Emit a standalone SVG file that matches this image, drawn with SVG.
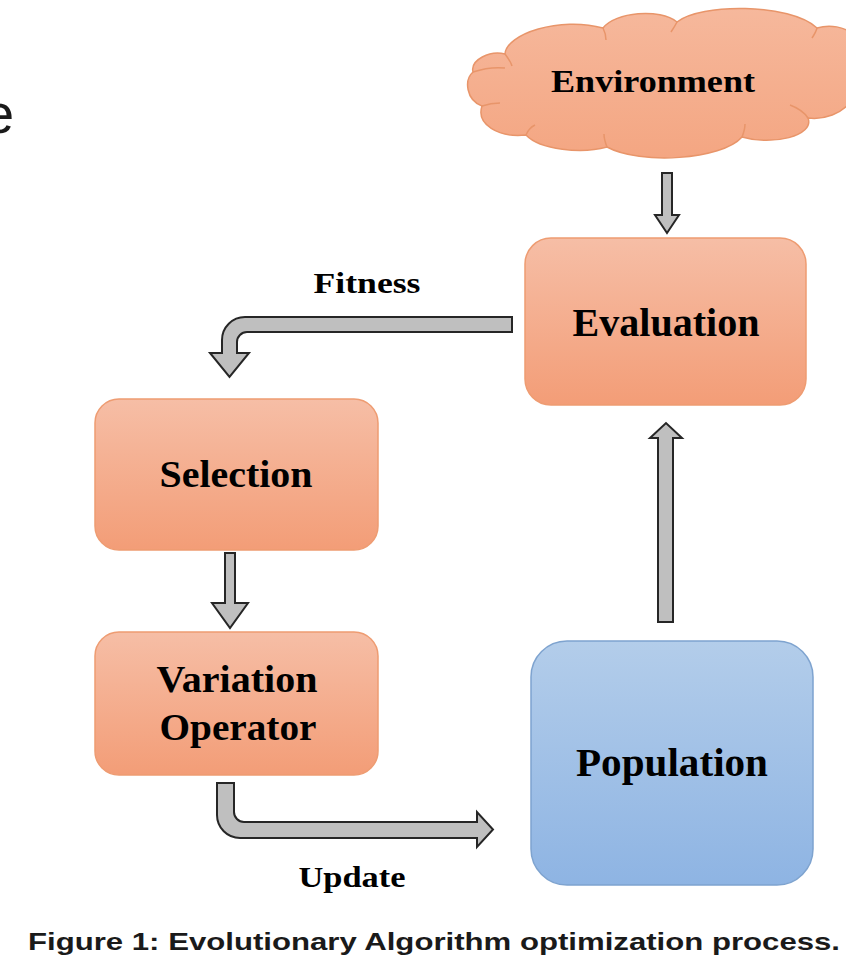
<svg xmlns="http://www.w3.org/2000/svg" width="846" height="967" viewBox="0 0 846 967">
<defs>
<linearGradient id="og" x1="0" y1="0" x2="0" y2="1">
<stop offset="0" stop-color="#f6bea6"/>
<stop offset="1" stop-color="#f39d77"/>
</linearGradient>
<linearGradient id="bg" x1="0" y1="0" x2="0" y2="1">
<stop offset="0" stop-color="#b3cdea"/>
<stop offset="1" stop-color="#8eb4e3"/>
</linearGradient>
<linearGradient id="cg" x1="0" y1="0" x2="0" y2="1">
<stop offset="0" stop-color="#f6b89c"/>
<stop offset="1" stop-color="#f4a682"/>
</linearGradient>
<style>
.ob{fill:url(#og);stroke:#ee9c72;stroke-width:1.5}
.cl{fill:url(#cg);stroke:#e8956a;stroke-width:1.5}
.bb{fill:url(#bg);stroke:#7ea3cf;stroke-width:1.5}
.ar{fill:#bfbfbf;stroke:#262626;stroke-width:2;stroke-linejoin:miter}
.t{font-family:"Liberation Serif","Times New Roman",serif;font-weight:bold;fill:#000;text-anchor:middle}
.ia{fill:none;stroke:#e8956a;stroke-width:1.5}
</style>
</defs>
<rect width="846" height="967" fill="#fff"/>
<text x="-17" y="133" font-family="Liberation Sans, Arial, sans-serif" font-size="56" fill="#1a1a1a">e</text>

<g id="environment">
<path class="cl" d="M473,72 C470,60 490,50 505,54 C506,34 560,16 603,28 C615,12 660,8 677,22 C700,3 790,3 817,28 C830,24 845,27 852,34 L852,100 C842,114 824,120 808,118 C815,136 772,146 742,137 C722,160 640,165 607,147 C582,154 540,150 526,135 C498,138 476,124 482,106 C466,100 464,80 473,72 Z"/>
<path class="ia" d="M473,72 C485,68 495,67 505,68 M505,54 C508,58 511,62 512,66 M603,28 C605,32 606,36 606,40 M677,22 C675,26 673,29 671,32 M817,28 C816,32 814,35 812,38 M808,118 C804,112 798,108 790,105 M742,137 C744,132 745,128 745,124 M607,147 C605,142 604,138 604,134 M526,135 C528,130 531,127 535,125 M482,106 C488,104 494,103 500,103"/>
<text class="t" x="653" y="92" font-size="32" textLength="204" lengthAdjust="spacingAndGlyphs">Environment</text>
</g>

<g id="evaluation">
<rect class="ob" x="525" y="238" width="281" height="167" rx="26"/>
<text class="t" x="666" y="336" font-size="40" textLength="187" lengthAdjust="spacingAndGlyphs">Evaluation</text>
</g>

<g id="selection">
<rect class="ob" x="95" y="399" width="283" height="151" rx="24"/>
<text class="t" x="236" y="487" font-size="37" textLength="153" lengthAdjust="spacingAndGlyphs">Selection</text>
</g>

<g id="variation">
<rect class="ob" x="95" y="632" width="283" height="143" rx="24"/>
<text class="t" x="237" y="692" font-size="38" textLength="161" lengthAdjust="spacingAndGlyphs">Variation</text>
<text class="t" x="238" y="740" font-size="38" textLength="157" lengthAdjust="spacingAndGlyphs">Operator</text>
</g>

<g id="population">
<rect class="bb" x="531" y="641" width="282" height="244" rx="36"/>
<text class="t" x="672" y="776" font-size="40" textLength="192" lengthAdjust="spacingAndGlyphs">Population</text>
</g>

<g id="connectors">
<path class="ar" d="M662,173 L672,173 L672,215 L679,215 L667,233 L655,215 L662,215 Z"/>
<path class="ar" d="M512,317 L245,317 A23,23 0 0 0 222,340 L222,353 L210,353 L229.5,377 L249,353 L237,353 L237,342 A10,10 0 0 1 247,332 L512,332 Z"/>
<path class="ar" d="M225,553 L235,553 L235,603 L248,603 L230,628 L212,603 L225,603 Z"/>
<path class="ar" d="M217,783 L234,783 L234,812 A10,10 0 0 0 244,822 L477,822 L477,812 L493,829.5 L477,847 L477,838 L240,838 A23,23 0 0 1 217,815 Z"/>
<path class="ar" d="M658,622 L673,622 L673,438 L682,438 L666,423 L650,438 L658,438 Z"/>
</g>

<text class="t" x="367" y="293" font-size="30" textLength="107" lengthAdjust="spacingAndGlyphs">Fitness</text>
<text class="t" x="352" y="887" font-size="30" textLength="107" lengthAdjust="spacingAndGlyphs">Update</text>
<text x="434" y="950" font-family="Liberation Sans, Arial, sans-serif" font-weight="bold" font-size="24" text-anchor="middle" fill="#1a1a1a" textLength="812" lengthAdjust="spacingAndGlyphs">Figure 1: Evolutionary Algorithm optimization process.</text>
</svg>
